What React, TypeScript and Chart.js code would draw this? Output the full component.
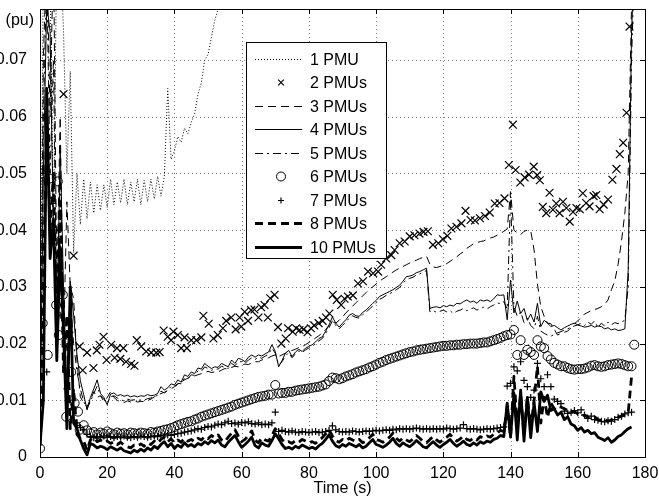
import { useEffect, useRef } from 'react';
import { Chart, registerables } from 'chart.js';

Chart.register(...registerables);

const FONT = '"Liberation Sans", Arial, Helvetica, sans-serif';

const seriesLabels = ['1 PMU', '2 PMUs', '3 PMUs', '4 PMUs', '5 PMUs', '6 PMUs', '7 PMUs', '8 PMUs', '10 PMUs'];
const xTicksMax = 180;
const yTickStep = 0.01;

const seconds = [
  0, 1, 2, 3, 4, 5, 6, 7, 8, 9, 10, 11, 12, 13, 14, 15, 16, 17, 18, 19,
  20, 21, 22, 23, 24, 25, 26, 27, 28, 29, 30, 31, 32, 33, 34, 35, 36, 37, 38, 39,
  40, 41, 42, 43, 44, 45, 46, 47, 48, 49, 50, 51, 52, 53, 54, 55, 56, 57, 58, 59,
  60, 61, 62, 63, 64, 65, 66, 67, 68, 69, 70, 71, 72, 73, 74, 75, 76, 77, 78, 79,
  80, 81, 82, 83, 84, 85, 86, 87, 88, 89, 90, 91, 92, 93, 94, 95, 96, 97, 98, 99,
  100, 101, 102, 103, 104, 105, 106, 107, 108, 109, 110, 111, 112, 113, 114, 115, 116, 117, 118, 119,
  120, 121, 122, 123, 124, 125, 126, 127, 128, 129, 130, 131, 132, 133, 134, 135, 136, 137, 138, 139,
  140, 141, 142, 143, 144, 145, 146, 147, 148, 149, 150, 151, 152, 153, 154, 155, 156, 157, 158, 159,
  160, 161, 162, 163, 164, 165, 166, 167, 168, 169, 170, 171, 172, 173, 174, 175, 176, 177,
];

const pmu1 = [
  0.002, 0.09, 0.09, 0.085, 0.04, 0.09, 0.09, 0.075, 0.05, 0.068,
  0.036, 0.05, 0.041, 0.049, 0.042, 0.0485, 0.043, 0.048, 0.0435, 0.048,
  0.044, 0.049, 0.0445, 0.0485, 0.0448, 0.049, 0.0445, 0.0485, 0.045, 0.049,
  0.0445, 0.0488, 0.045, 0.049, 0.0455, 0.0495, 0.046, 0.0495, 0.065, 0.0525,
  0.054, 0.0565, 0.0555, 0.058, 0.057, 0.059, 0.0605, 0.064, 0.066, 0.07,
  0.071, 0.074, 0.077, 0.079, 0.083, 0.088,
];

const pmu2Time = [
  7, 10, 11.8, 12.7, 14.0, 15.9, 16.9, 17.7, 18.9, 19.8, 21.2, 22.2, 22.9, 23.9, 24.8, 25.6, 27.1, 28.1, 28.8, 30.1,
  31.6, 33.1, 34.6, 35.6, 36.8, 38.0, 39.0, 39.7, 41.0, 42.0, 43.0, 43.7, 45.0, 46.5, 48.0, 48.6, 50.2, 51.6, 52.9, 54.4,
  55.4, 56.9, 58.2, 59.4, 59.9, 60.9, 61.9, 62.8, 63.8, 65.0, 65.8, 66.8, 67.8, 68.5, 69.8, 70.8, 71.8, 73.1, 73.8, 75.2,
  76.2, 77.2, 78.4, 79.6, 80.6, 81.6, 82.9, 84.1, 85.1, 86.1, 87.1, 88.3, 89.6, 90.6, 91.6, 93.1, 94.6, 96.1, 97.6, 99.1,
  100.6, 101.5, 103.0, 104.5, 105.5, 107.0, 108.5, 110.0, 111.4, 112.9, 114.1, 115.4, 116.9, 118.5, 119.9, 121.2, 122.4, 123.9, 125.4, 126.6,
  128.1, 129.4, 130.9, 132.4, 133.8, 135.3, 136.7, 138.2, 139.5, 140.7, 141.5, 142.9, 144.2, 145.5, 146.9, 147.9, 148.7, 149.6, 150.6, 151.6,
  152.6, 153.6, 154.6, 155.6, 156.6, 157.6, 158.6, 159.6, 160.6, 161.5, 162.5, 163.5, 164.7, 165.5, 166.5, 167.7, 169.0, 170.3, 171.5, 172.5,
  173.5, 174.5, 175.4,
];
const pmu2 = [
  0.064, 0.0355, 0.0195, 0.0153, 0.0184, 0.0157, 0.0188, 0.0198, 0.0212, 0.0171, 0.0198, 0.0175, 0.0192, 0.0173, 0.0192, 0.0168, 0.0164, 0.0161, 0.0206, 0.0195,
  0.0186, 0.0184, 0.0184, 0.0185, 0.0223, 0.0212, 0.0206, 0.0221, 0.0215, 0.0192, 0.0211, 0.0192, 0.0206, 0.0206, 0.0211, 0.0249, 0.0235, 0.0209, 0.0215, 0.0227,
  0.024, 0.0246, 0.0225, 0.0246, 0.023, 0.0256, 0.024, 0.0259, 0.026, 0.0246, 0.0264, 0.0268, 0.0246, 0.028, 0.0286, 0.0229, 0.02, 0.0209, 0.0227, 0.0221,
  0.0227, 0.0224, 0.0225, 0.022, 0.0227, 0.0232, 0.0236, 0.024, 0.0246, 0.0253, 0.0286, 0.0277, 0.0268, 0.0279, 0.0283, 0.0285, 0.0306, 0.031, 0.0327, 0.0324,
  0.0327, 0.0339, 0.035, 0.0356, 0.0365, 0.0377, 0.038, 0.0389, 0.0391, 0.0394, 0.0397, 0.0398, 0.0374, 0.0377, 0.0384, 0.039, 0.0403, 0.0406, 0.0412, 0.0434,
  0.0418, 0.0417, 0.0421, 0.0425, 0.0431, 0.0447, 0.0448, 0.0456, 0.0515, 0.0586, 0.0506, 0.0484, 0.0493, 0.0498, 0.0512, 0.0497, 0.0488, 0.0441, 0.043, 0.0466,
  0.0436, 0.0447, 0.043, 0.045, 0.0439, 0.0415, 0.0432, 0.0439, 0.0437, 0.0465, 0.0448, 0.0442, 0.046, 0.0462, 0.0437, 0.0445, 0.0454, 0.0489, 0.0508, 0.0534,
  0.0554, 0.0607, 0.0759,
];

const pmu3 = [
  0.002, 0.07, 0.09, 0.06, 0.09, 0.03, 0.06, 0.02, 0.045, 0.03,
  0.028, 0.017, 0.0106, 0.0095, 0.0089, 0.01, 0.0115, 0.0105, 0.0108, 0.0098,
  0.0105, 0.0115, 0.0105, 0.01, 0.0097, 0.0096, 0.0099, 0.0097, 0.0099, 0.0097,
  0.0098, 0.0098, 0.01, 0.0102, 0.0106, 0.0109, 0.0112, 0.0114, 0.0117, 0.012,
  0.0124, 0.0128, 0.0132, 0.0136, 0.0139, 0.0141, 0.0143, 0.0145, 0.0147, 0.0149,
  0.0151, 0.0149, 0.015, 0.015, 0.0153, 0.0156, 0.0155, 0.0158, 0.016, 0.0159,
  0.0162, 0.0164, 0.0163, 0.0166, 0.0168, 0.0168, 0.0171, 0.0173, 0.0175, 0.0178,
  0.018, 0.0177, 0.018, 0.0183, 0.0186, 0.0188, 0.019, 0.0193, 0.0195, 0.0198,
  0.0202, 0.0206, 0.021, 0.0214, 0.0219, 0.0225, 0.0232, 0.0238, 0.0236, 0.0241,
  0.0247, 0.0254, 0.026, 0.0266, 0.0272, 0.0278, 0.0284, 0.029, 0.0296, 0.03,
  0.0305, 0.031, 0.0314, 0.0318, 0.0322, 0.0326, 0.033, 0.0333, 0.0336, 0.0339,
  0.0342, 0.0345, 0.0347, 0.035, 0.0352, 0.0354, 0.034, 0.0335, 0.0334, 0.0336,
  0.0338, 0.0341, 0.0345, 0.0349, 0.0353, 0.0358, 0.0362, 0.0368, 0.0372, 0.0376,
  0.0378, 0.038, 0.0381, 0.0384, 0.0386, 0.0388, 0.0391, 0.0394, 0.0398, 0.0402,
  0.0468, 0.04, 0.0395, 0.0392, 0.0398, 0.04, 0.0399, 0.0365, 0.0305, 0.0265,
  0.0248, 0.0236, 0.0235, 0.0225, 0.0215, 0.0218, 0.022, 0.0222, 0.0228, 0.0235,
  0.024, 0.0246, 0.0252, 0.0255, 0.0258, 0.026, 0.0262, 0.0265, 0.0269, 0.0277,
  0.0295, 0.031, 0.034, 0.038, 0.043, 0.05, 0.08, 0.09,
];

const pmu4 = [
  0.002, 0.05, 0.08, 0.075, 0.04, 0.02, 0.055, 0.03, 0.012, 0.031,
  0.025, 0.018, 0.0135, 0.011, 0.0083, 0.0105, 0.012, 0.0136, 0.0112, 0.0105,
  0.0092, 0.0111, 0.0113, 0.0108, 0.011, 0.0107, 0.0109, 0.0106, 0.0108, 0.0106,
  0.0108, 0.0107, 0.011, 0.0108, 0.0109, 0.0112, 0.0124, 0.0118, 0.0122, 0.0129,
  0.0127, 0.0136, 0.0132, 0.0145, 0.0142, 0.015, 0.0147, 0.0157, 0.0155, 0.0165,
  0.016, 0.0156, 0.0159, 0.0158, 0.0165, 0.0162, 0.0159, 0.0171, 0.0165, 0.0174,
  0.0172, 0.0168, 0.0176, 0.018, 0.0176, 0.018, 0.0178, 0.0182, 0.0185, 0.0198,
  0.0186, 0.0159, 0.017, 0.0183, 0.0188, 0.0177, 0.0185, 0.019, 0.0186, 0.0192,
  0.0195, 0.0198, 0.0203, 0.0209, 0.0212, 0.0222, 0.0233, 0.0247, 0.0236, 0.0229,
  0.0236, 0.0242, 0.025, 0.0253, 0.0249, 0.0248, 0.0255, 0.0259, 0.0265, 0.0271,
  0.0276, 0.0283, 0.0286, 0.0289, 0.0292, 0.0295, 0.0299, 0.0303, 0.031, 0.0318,
  0.0319, 0.0321, 0.0325, 0.0327, 0.033, 0.0333, 0.0262, 0.0264, 0.0265, 0.0263,
  0.0267, 0.0265, 0.0268, 0.0266, 0.0271, 0.027, 0.0274, 0.0277, 0.0273, 0.0275,
  0.0271, 0.0277, 0.0275, 0.0277, 0.0274, 0.0279, 0.0286, 0.0285, 0.0286, 0.0242,
  0.0312, 0.0254, 0.0275, 0.0253, 0.0262, 0.0241, 0.0252, 0.0238, 0.0271, 0.023,
  0.0241, 0.0236, 0.023, 0.0232, 0.0228, 0.0224, 0.0228, 0.0231, 0.0234, 0.0236,
  0.0233, 0.0231, 0.0229, 0.023, 0.0232, 0.0229, 0.0231, 0.023, 0.0226, 0.0228,
  0.0224, 0.0226, 0.0223, 0.0224, 0.0226, 0.033, 0.075, 0.09,
];

const pmu5 = [
  0.002, 0.06, 0.085, 0.05, 0.07, 0.025, 0.05, 0.025, 0.01, 0.028,
  0.02, 0.015, 0.012, 0.0098, 0.0085, 0.0098, 0.0112, 0.0125, 0.0108, 0.0102,
  0.0095, 0.0106, 0.0108, 0.0104, 0.0101, 0.0099, 0.0102, 0.01, 0.0101, 0.0099,
  0.0101, 0.01, 0.0103, 0.0104, 0.0106, 0.0109, 0.0116, 0.0113, 0.0118, 0.0124,
  0.0124, 0.013, 0.0129, 0.0139, 0.0138, 0.0145, 0.0144, 0.0152, 0.0151, 0.0159,
  0.0156, 0.0153, 0.0155, 0.0155, 0.016, 0.0158, 0.0156, 0.0165, 0.0161, 0.0168,
  0.0168, 0.0165, 0.0171, 0.0175, 0.0172, 0.0176, 0.0174, 0.0178, 0.0181, 0.0192,
  0.0183, 0.0162, 0.0168, 0.0178, 0.0184, 0.0175, 0.0182, 0.0187, 0.0184, 0.0189,
  0.0192, 0.0195, 0.02, 0.0205, 0.0209, 0.0218, 0.0228, 0.024, 0.0232, 0.0226,
  0.0232, 0.0238, 0.0245, 0.0249, 0.0246, 0.0245, 0.0251, 0.0255, 0.0261, 0.0266,
  0.0271, 0.0278, 0.0281, 0.0285, 0.0288, 0.0291, 0.0295, 0.0299, 0.0306, 0.0313,
  0.0315, 0.0317, 0.0321, 0.0323, 0.0326, 0.0329, 0.0256, 0.0258, 0.0255, 0.0257,
  0.0259, 0.0256, 0.0258, 0.0253, 0.0257, 0.0259, 0.0262, 0.0258, 0.0261, 0.0263,
  0.0259, 0.0262, 0.0264, 0.0261, 0.0265, 0.0268, 0.0272, 0.027, 0.0274, 0.0261,
  0.046, 0.0265, 0.0248, 0.0256, 0.0237, 0.0245, 0.0232, 0.0226, 0.0248, 0.0222,
  0.0218, 0.0215, 0.0213, 0.0216, 0.0219, 0.0221, 0.0224, 0.0226, 0.0229, 0.0231,
  0.0233, 0.0236, 0.0232, 0.0238, 0.0234, 0.024, 0.0228, 0.0236, 0.0231, 0.0238,
  0.0233, 0.0237, 0.0235, 0.0238, 0.0241, 0.03, 0.07, 0.09,
];

const pmu6EarlyTime = [0, 0.4, 0.8, 2.3, 2.8, 4.8, 5.3, 5.6, 6.8, 7.8, 9.3, 10.3, 11.3, 11.8, 13, 14];
const pmu6LateTime = [176.8];
const pmu6 = [
  0.0015, 0.05, 0.0236, 0.018, 0.0491, 0.0268, 0.0486, 0.0215, 0.0286, 0.0071, 0.015, 0.0095, 0.008, 0.0048, 0.0056, 0.0047,
  0.0042, 0.0044, 0.004, 0.0043, 0.0041, 0.0045, 0.0042, 0.004, 0.0043, 0.0041,
  0.0042, 0.004, 0.0043, 0.0042, 0.0041, 0.0043, 0.0042, 0.0041, 0.0044, 0.0043,
  0.0045, 0.0046, 0.0048, 0.0049, 0.0051, 0.0053, 0.0056, 0.0058, 0.006, 0.0062,
  0.0063, 0.0066, 0.0068, 0.0071, 0.0073, 0.0075, 0.0077, 0.0079, 0.0081, 0.0083,
  0.0085, 0.0087, 0.0089, 0.0092, 0.0094, 0.0096, 0.0098, 0.01, 0.0102, 0.0104,
  0.0106, 0.0107, 0.0108, 0.011, 0.011, 0.0127, 0.0112, 0.0113, 0.0113, 0.0115,
  0.0115, 0.0117, 0.0118, 0.0119, 0.012, 0.0121, 0.0122, 0.0123, 0.0124, 0.0126,
  0.0128, 0.0134, 0.014, 0.0139, 0.0137, 0.0139, 0.0142, 0.0144, 0.0146, 0.0149,
  0.0151, 0.0153, 0.0155, 0.0158, 0.016, 0.0163, 0.0166, 0.0168, 0.0171, 0.0173,
  0.0175, 0.0177, 0.0179, 0.0181, 0.0183, 0.0185, 0.0186, 0.0188, 0.0189, 0.019,
  0.0191, 0.0192, 0.0193, 0.0194, 0.0195, 0.0196, 0.0196, 0.0197, 0.0197, 0.0198,
  0.0198, 0.0199, 0.0199, 0.02, 0.02, 0.02, 0.0201, 0.0202, 0.0202, 0.0204,
  0.0206, 0.0208, 0.021, 0.0213, 0.0215, 0.0216, 0.0224, 0.018, 0.0206, 0.018,
  0.0189, 0.0185, 0.018, 0.0206, 0.0195, 0.0192, 0.0178, 0.0172, 0.0166, 0.0163,
  0.016, 0.016, 0.0157, 0.0155, 0.0154, 0.0155, 0.0155, 0.0156, 0.0158, 0.0161,
  0.0162, 0.016, 0.0159, 0.016, 0.0162, 0.0163, 0.0164, 0.0165, 0.0164, 0.0162,
  0.016, 0.016,
  0.0198,
];

const pmu7EarlyTime = [1, 2, 3.8, 5, 6, 8, 10, 11];
const pmu7 = [
  0.03, 0.015, 0.0447, 0.04, 0.025, 0.012, 0.0085, 0.006,
  0.0052, 0.0048, 0.004, 0.0036, 0.0034, 0.0036, 0.0035, 0.0037, 0.0035, 0.0036,
  0.0034, 0.0036, 0.0035, 0.0037, 0.0035, 0.0034, 0.0036, 0.0035, 0.0037, 0.0036,
  0.0035, 0.0036, 0.0037, 0.0036, 0.0038, 0.0037, 0.0039, 0.0038, 0.004, 0.0041,
  0.0042, 0.0044, 0.0045, 0.0046, 0.0048, 0.005, 0.0049, 0.0052, 0.0054, 0.0053,
  0.0056, 0.0058, 0.0057, 0.006, 0.0063, 0.0059, 0.006, 0.0058, 0.0061, 0.006,
  0.0062, 0.0059, 0.0058, 0.006, 0.0057, 0.0058, 0.0057, 0.006, 0.0079, 0.0045,
  0.0047, 0.0045, 0.0044, 0.0046, 0.0044, 0.0043, 0.0045, 0.0044, 0.0043, 0.0044,
  0.0045, 0.0043, 0.0044, 0.0045, 0.0047, 0.0055, 0.0048, 0.0045, 0.0044, 0.0045,
  0.0044, 0.0046, 0.0045, 0.0044, 0.0045, 0.0046, 0.0045, 0.0046, 0.0047, 0.0046,
  0.0047, 0.0048, 0.0047, 0.0049, 0.0048, 0.005, 0.0049, 0.005, 0.0049, 0.005,
  0.0051, 0.005, 0.0049, 0.005, 0.0049, 0.005, 0.0049, 0.005, 0.0049, 0.0051,
  0.005, 0.0049, 0.005, 0.0051, 0.0057, 0.005, 0.0049, 0.005, 0.0049, 0.0048,
  0.0049, 0.005, 0.0049, 0.005, 0.0051, 0.0052, 0.0053, 0.0125, 0.013, 0.0159,
  0.0152, 0.0168, 0.0135, 0.0124, 0.0105, 0.0118, 0.0165, 0.0138, 0.0124, 0.0145,
  0.0124, 0.0102, 0.0098, 0.0094, 0.0081, 0.0077, 0.0079, 0.0082, 0.0078, 0.0083,
  0.0074, 0.0068, 0.0072, 0.0066, 0.0065, 0.0063, 0.0062, 0.0064, 0.0063, 0.0066,
  0.007, 0.0072, 0.0076, 0.0078, 0.0079,
];

const pmu8 = [
  0.002, 0.03, 0.06, 0.04, 0.05, 0.02, 0.045, 0.015, 0.025, 0.005,
  0.012, 0.004, 0.0032, 0.0028, 0.0012, 0.003, 0.0034, 0.0027, 0.003, 0.0025,
  0.0028, 0.0024, 0.0027, 0.0022, 0.0026, 0.0021, 0.0018, 0.0016, 0.0021, 0.0019,
  0.0023, 0.0019, 0.0025, 0.0022, 0.0028, 0.0024, 0.0031, 0.0035, 0.0027, 0.0032,
  0.0025, 0.003, 0.0026, 0.0033, 0.0028, 0.0031, 0.0027, 0.0033, 0.003, 0.0036,
  0.0032, 0.0038, 0.0034, 0.0039, 0.003, 0.0027, 0.0035, 0.0042, 0.0048, 0.0037,
  0.0027, 0.0031, 0.0038, 0.0046, 0.003, 0.0025, 0.0034, 0.003, 0.0028, 0.0038,
  0.005, 0.0041, 0.0031, 0.0025, 0.0027, 0.0024, 0.0029, 0.0026, 0.0031, 0.0028,
  0.0025, 0.0027, 0.0024, 0.003, 0.0034, 0.0041, 0.0048, 0.0037, 0.0029, 0.0026,
  0.0031, 0.0028, 0.0033, 0.003, 0.0027, 0.0031, 0.0025, 0.0028, 0.0034, 0.004,
  0.0031, 0.0029, 0.0026, 0.003, 0.0035, 0.0042, 0.0033, 0.0028, 0.0034, 0.003,
  0.0027, 0.0032, 0.0038, 0.0033, 0.0027, 0.0025, 0.0031, 0.0036, 0.003, 0.0026,
  0.0031, 0.0035, 0.004, 0.0033, 0.0028, 0.0032, 0.0037, 0.0031, 0.0029, 0.0034,
  0.003, 0.0036, 0.0033, 0.0037, 0.0035, 0.004, 0.0042, 0.0047, 0.0045, 0.009,
  0.0035, 0.0142, 0.0055, 0.011, 0.004, 0.0105, 0.005, 0.01, 0.016, 0.006,
  0.0105, 0.007, 0.0095, 0.0085, 0.009, 0.0088, 0.0085, 0.0082, 0.0078, 0.008,
  0.0076, 0.0072, 0.0074, 0.007, 0.0068, 0.0071, 0.0066, 0.0064, 0.0066, 0.0063,
  0.0065, 0.0068, 0.007, 0.0072, 0.0075, 0.0078, 0.0142, 0.0145,
];

const pmu10 = [
  0.002, 0.01, 0.065, 0.035, 0.042, 0.017, 0.037, 0.022, 0.005, 0.03,
  0.006, 0.005, 0.003, 0.0015, 0.0004, 0.0024, 0.0021, 0.0016, 0.0019, 0.0017,
  0.0013, 0.0018, 0.0015, 0.0012, 0.0016, 0.0011, 0.0009, 0.0007, 0.0012, 0.0009,
  0.0014, 0.001, 0.0016, 0.0012, 0.0019, 0.0015, 0.0022, 0.0027, 0.0018, 0.0024,
  0.0015, 0.0021, 0.0017, 0.0025, 0.0019, 0.0022, 0.0018, 0.0024, 0.0021, 0.0027,
  0.0023, 0.0029, 0.0025, 0.003, 0.0021, 0.0018, 0.0026, 0.0032, 0.0038, 0.0027,
  0.0017, 0.0022, 0.0028, 0.0035, 0.002, 0.0016, 0.0025, 0.0021, 0.0019, 0.0029,
  0.0041, 0.0032, 0.0022, 0.0015, 0.0017, 0.0014, 0.0019, 0.0016, 0.0021, 0.0018,
  0.0015, 0.0017, 0.0014, 0.002, 0.0024, 0.0031, 0.0039, 0.0028, 0.002, 0.0017,
  0.0022, 0.0019, 0.0024, 0.0021, 0.0018, 0.0022, 0.0016, 0.0019, 0.0025, 0.0031,
  0.0022, 0.002, 0.0017, 0.0021, 0.0026, 0.0033, 0.0024, 0.0019, 0.0025, 0.0021,
  0.0018, 0.0023, 0.0029, 0.0024, 0.0018, 0.0016, 0.0022, 0.0027, 0.0021, 0.0017,
  0.0022, 0.0026, 0.0031, 0.0024, 0.0019, 0.0023, 0.0028, 0.0022, 0.002, 0.0025,
  0.0021, 0.0027, 0.0024, 0.0028, 0.0026, 0.0031, 0.0033, 0.0038, 0.0036, 0.0095,
  0.0035, 0.0112, 0.003, 0.0118, 0.0028, 0.0105, 0.0034, 0.0096, 0.0045, 0.0115,
  0.0098, 0.0109, 0.0082, 0.0085, 0.0074, 0.0079, 0.0066, 0.0071, 0.0058, 0.0055,
  0.0047, 0.0052, 0.0044, 0.0047, 0.0041, 0.0043, 0.0035, 0.0032, 0.0029, 0.0034,
  0.0026, 0.003, 0.0036, 0.0039, 0.0045, 0.005, 0.0053,
];

function pts(times: number[], values: number[]) {
  return values.map((v, i) => ({ x: times[i], y: v }));
}

function drawMarker(ctx: CanvasRenderingContext2D, style: string, x: number, y: number, r: number, lw: number) {
  ctx.save();
  ctx.setLineDash([]);
  ctx.strokeStyle = '#000';
  ctx.lineWidth = lw;
  ctx.beginPath();
  if (style === 'crossRot') {
    const d = r * Math.SQRT1_2;
    ctx.moveTo(x - d, y - d); ctx.lineTo(x + d, y + d);
    ctx.moveTo(x - d, y + d); ctx.lineTo(x + d, y - d);
  } else if (style === 'cross') {
    ctx.moveTo(x - r, y); ctx.lineTo(x + r, y);
    ctx.moveTo(x, y - r); ctx.lineTo(x, y + r);
  } else {
    ctx.arc(x, y, r, 0, Math.PI * 2);
  }
  ctx.stroke();
  ctx.restore();
}

const framePlugin = {
  id: 'matlabFrame',
  beforeDatasetsDraw(chart: any) {
    const { ctx, chartArea: a, scales } = chart;
    const xs = scales.x, ys = scales.y;
    ctx.save();
    ctx.strokeStyle = '#7a7a7a';
    ctx.lineWidth = 1;
    ctx.setLineDash([1, 3]);
    xs.ticks.forEach((t: any) => {
      const px = Math.round(xs.getPixelForValue(t.value)) + 0.5;
      if (px > a.left + 2 && px < a.right - 2) {
        ctx.beginPath(); ctx.moveTo(px, a.top); ctx.lineTo(px, a.bottom); ctx.stroke();
      }
    });
    ys.ticks.forEach((t: any) => {
      const py = Math.round(ys.getPixelForValue(t.value)) + 0.5;
      if (py > a.top + 2 && py < a.bottom - 2) {
        ctx.beginPath(); ctx.moveTo(a.left, py); ctx.lineTo(a.right, py); ctx.stroke();
      }
    });
    ctx.restore();
  },
  afterDatasetsDraw(chart: any) {
    const { ctx, chartArea: a, scales } = chart;
    const xs = scales.x, ys = scales.y;
    ctx.save();
    ctx.setLineDash([]);
    ctx.strokeStyle = '#000';
    ctx.lineWidth = 1;
    ctx.strokeRect(Math.round(a.left) + 0.5, Math.round(a.top) + 0.5, Math.round(a.right - a.left), Math.round(a.bottom - a.top));
    const tl = 5;
    xs.ticks.forEach((t: any) => {
      const px = Math.round(xs.getPixelForValue(t.value)) + 0.5;
      ctx.beginPath();
      ctx.moveTo(px, a.bottom); ctx.lineTo(px, a.bottom - tl);
      ctx.moveTo(px, a.top); ctx.lineTo(px, a.top + tl);
      ctx.stroke();
    });
    ys.ticks.forEach((t: any) => {
      const py = Math.round(ys.getPixelForValue(t.value)) + 0.5;
      ctx.beginPath();
      ctx.moveTo(a.left, py); ctx.lineTo(a.left + tl, py);
      ctx.moveTo(a.right, py); ctx.lineTo(a.right - tl, py);
      ctx.stroke();
    });
    ctx.restore();
  },
  afterDraw(chart: any) {
    const { ctx, chartArea: a } = chart;
    ctx.save();
    // unit label above the y ticks
    ctx.fillStyle = '#000';
    ctx.font = `16px ${FONT}`;
    ctx.textAlign = 'right';
    ctx.textBaseline = 'middle';
    ctx.fillText('(pu)', a.left - 6, a.top + 12);

    // legend box
    const bx = 246, by = 42, bw = 140, bh = 216;
    ctx.fillStyle = '#fff';
    ctx.fillRect(bx, by, bw, bh);
    ctx.strokeStyle = '#000';
    ctx.lineWidth = 1;
    ctx.setLineDash([]);
    ctx.strokeRect(bx + 0.5, by + 0.5, bw, bh);
    const x1 = 255, x2 = 302, xm = 281, xt = 310;
    chart.data.datasets.forEach((ds: any, i: number) => {
      const cy = Math.round(58.5 + i * 23.5) + 0.5;
      if (ds.showLine === false) {
        drawMarker(ctx, ds.pointStyle, xm, cy, ds.legendRadius, ds.pointBorderWidth);
      } else {
        ctx.save();
        ctx.strokeStyle = '#000';
        ctx.lineWidth = ds.borderWidth;
        ctx.setLineDash(ds.borderDash || []);
        ctx.beginPath(); ctx.moveTo(x1, cy); ctx.lineTo(x2, cy); ctx.stroke();
        ctx.restore();
      }
      ctx.fillStyle = '#000';
      ctx.textAlign = 'left';
      ctx.textBaseline = 'middle';
      ctx.fillText(ds.label, xt, cy + 1);
    });
    ctx.restore();
  },
};

export default function App() {
  const ref = useRef<HTMLCanvasElement | null>(null);

  useEffect(() => {
    if (!ref.current) return;
    const lineBase = { pointRadius: 0, fill: false, tension: 0, borderColor: '#000', backgroundColor: '#000', borderJoinStyle: 'round' as const };
    const markBase = { showLine: false, borderColor: '#000', backgroundColor: 'rgba(0,0,0,0)', pointBackgroundColor: 'rgba(0,0,0,0)', pointBorderColor: '#000' };
    const chart = new Chart(ref.current, {
      type: 'line',
      data: {
        datasets: [
          { ...lineBase, label: seriesLabels[0], data: pts(seconds, pmu1), borderWidth: 1, borderDash: [1, 2] },
          { ...markBase, label: seriesLabels[1], data: pts(pmu2Time, pmu2), pointStyle: 'crossRot', pointRadius: 5.5, pointBorderWidth: 1.2, legendRadius: 4 } as any,
          { ...lineBase, label: seriesLabels[2], data: pts(seconds, pmu3), borderWidth: 1, borderDash: [8, 5] },
          { ...lineBase, label: seriesLabels[3], data: pts(seconds, pmu4), borderWidth: 1 },
          { ...lineBase, label: seriesLabels[4], data: pts(seconds, pmu5), borderWidth: 1, borderDash: [8, 4, 2, 4] },
          { ...markBase, label: seriesLabels[5], data: pts([...pmu6EarlyTime, ...seconds.slice(15, 177), ...pmu6LateTime], pmu6), pointStyle: 'circle', pointRadius: 4.5, pointBorderWidth: 1, legendRadius: 4.5 } as any,
          { ...markBase, label: seriesLabels[6], data: pts([...pmu7EarlyTime, ...seconds.slice(12, 177)], pmu7), pointStyle: 'cross', pointRadius: 3.5, pointBorderWidth: 1.2, legendRadius: 3 } as any,
          { ...lineBase, label: seriesLabels[7], data: pts(seconds, pmu8), borderWidth: 2.8, borderDash: [8, 5] },
          { ...lineBase, label: seriesLabels[8], data: pts(seconds, pmu10), borderWidth: 2.8 },
        ],
      },
      options: {
        animation: false,
        responsive: false,
        devicePixelRatio: 1,
        events: [],
        layout: { padding: { top: 9, right: 14, left: 0, bottom: 0 } },
        plugins: { legend: { display: false }, tooltip: { enabled: false } },
        scales: {
          x: {
            type: 'linear',
            min: 0,
            max: xTicksMax,
            grid: { display: false },
            border: { display: false },
            ticks: { stepSize: 20, padding: -1, color: '#000', font: { family: FONT, size: 16 } },
            title: { display: true, text: 'Time (s)', color: '#000', padding: 0, font: { family: FONT, size: 16 } },
            afterFit: (s: any) => { s.height = 41; s.paddingLeft = 0; s.paddingRight = 0; },
          },
          y: {
            type: 'linear',
            min: 0,
            max: 0.079,
            grid: { display: false },
            border: { display: false },
            ticks: {
              stepSize: yTickStep,
              includeBounds: false,
              padding: 5,
              color: '#000',
              font: { family: FONT, size: 16 },
              callback: (v: any) => (Math.abs(v) < 1e-9 ? '0' : Number(v).toFixed(2)),
            },
            afterFit: (s: any) => { s.width = 40; s.paddingTop = 0; s.paddingBottom = 0; },
          },
        },
      } as any,
      plugins: [framePlugin],
    });
    return () => chart.destroy();
  }, []);

  return (
    <div style={{ position: 'fixed', left: 0, top: 0, width: 659, height: 498, background: '#fff' }}>
      <canvas ref={ref} width={659} height={498} style={{ display: 'block', width: 659, height: 498 }} />
    </div>
  );
}
